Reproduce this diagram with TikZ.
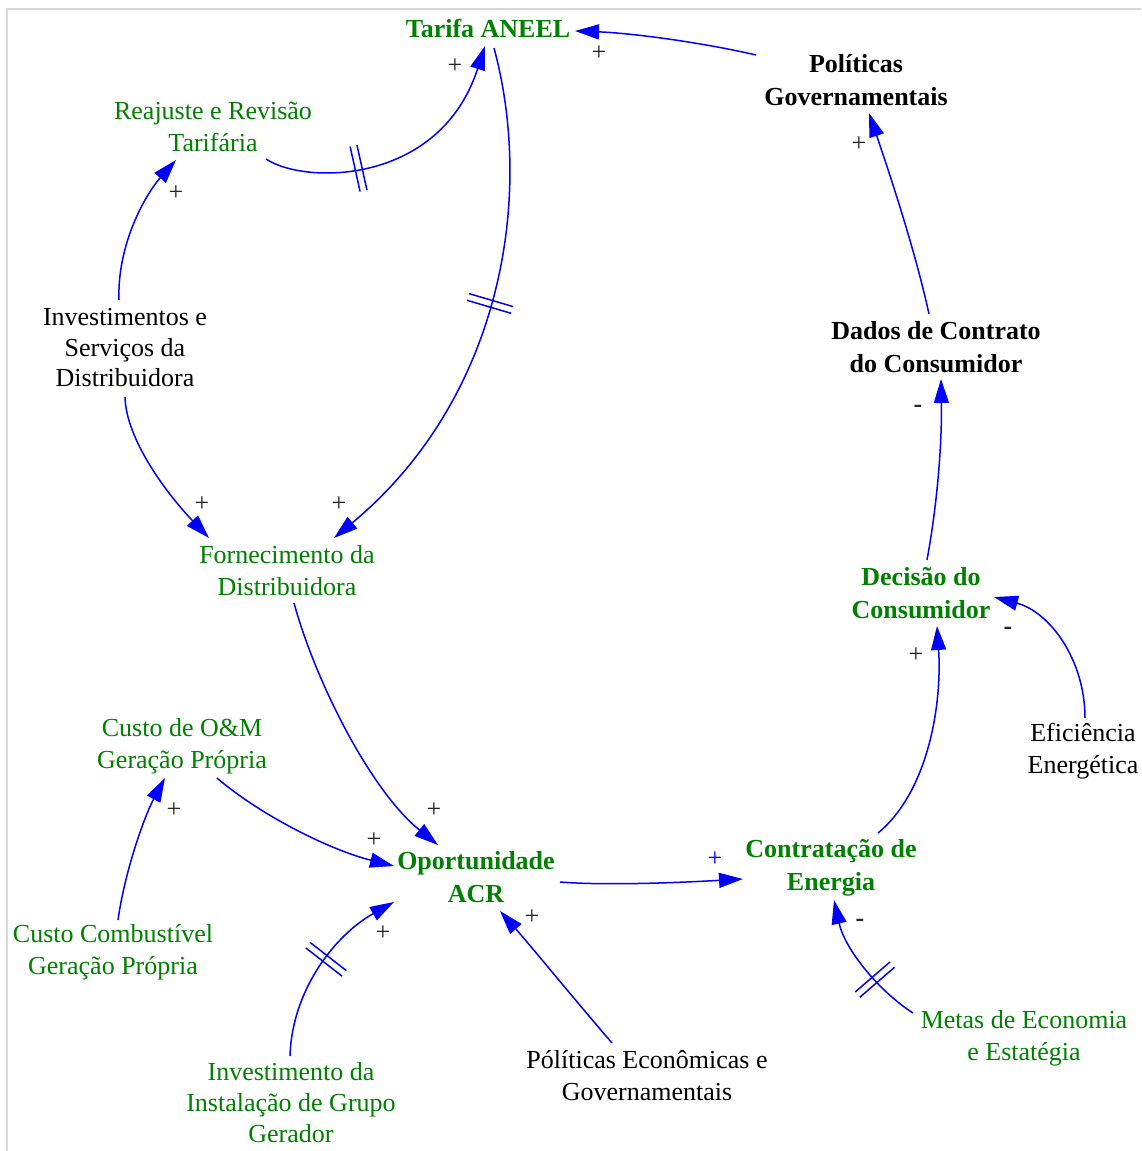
\documentclass[tikz,border=0pt]{standalone}
\usepackage{fontspec}
\setmainfont{Liberation Serif}
\usetikzlibrary{arrows.meta,decorations.markings}
\definecolor{vgreen}{RGB}{0,128,0}
\definecolor{vblue}{RGB}{0,0,255}
\definecolor{framegray}{RGB}{216,216,216}
\begin{document}
\begin{tikzpicture}[x=1pt,y=-1pt,
  txt/.style={align=center, inner sep=0pt, font=\fontsize{26}{32}\selectfont},
  gtxt/.style={txt, text=vgreen},
  btxt/.style={align=center, inner sep=0pt, font=\fontsize{26}{33}\selectfont\bfseries},
  gbtxt/.style={btxt, text=vgreen},
  link/.style={draw=vblue, line width=1.5pt, -{Triangle[length=24pt,width=15pt]}},
  delay/.style={postaction={decorate, decoration={markings, mark=at position #1 with {\draw[vblue,line width=1.5pt,-] (-3.5pt,-23pt)--(-3.5pt,23pt) (3.5pt,-23pt)--(3.5pt,23pt);}}}},
  sgn/.style={inner sep=0pt, font=\fontsize{26}{26}\selectfont, text=black!85},
  msgn/.style={inner sep=0pt, font=\fontsize{26}{26}\selectfont\bfseries, text=black!85}
]
\useasboundingbox (0,0) rectangle (1141,1151);
\draw[framegray, line width=2pt] (1141,9) -- (7,9) -- (7,1151);

% nodes
\node[gbtxt] (tar) at (488,28) {Tarifa ANEEL};
\node[btxt] (pg) at (856,80) {Políticas\\Governamentais};
\node[gtxt] (rea) at (213,127) {Reajuste e Revisão\\Tarifária};
\node[txt, font=\fontsize{26}{30.5}\selectfont] (inv) at (125,348) {Investimentos e\\Serviços da\\Distribuidora};
\node[gtxt] (forn) at (287,571) {Fornecimento da\\Distribuidora};
\node[btxt] (dad) at (936,347) {Dados de Contrato\\do Consumidor};
\node[gbtxt] (dec) at (921,593) {Decisão do\\Consumidor};
\node[txt] (efi) at (1083,751) {Eficiência\\Energética};
\node[gtxt] (com) at (182,746) {Custo de O\&M\\Geração Própria};
\node[gbtxt] (opo) at (476,877) {Oportunidade\\ACR};
\node[gbtxt] (con) at (831,868) {Contratação de\\Energia};
\node[gtxt] (cc) at (113,952) {Custo Combustível\\Geração Própria};
\node[gtxt, font=\fontsize{26}{31}\selectfont] (igg) at (291,1103) {Investimento da\\Instalação de Grupo\\Gerador};
\node[txt] (pe) at (647,1076) {Pólíticas Econômicas e\\Governamentais};
\node[gtxt] (met) at (1024,1038) {Metas de Economia\\e Estatégia};

% connectors
\draw[link] ([shift={(-100,-25)}]pg.center) .. controls (700,42) and (630,33) .. ([shift={(87,3)}]tar.center);
\draw[link, delay=0.34] ([shift={(53,32)}]rea.center) .. controls (305,185) and (440,185) .. ([shift={(-3,18)}]tar.center);
\draw[link, delay=0.475] ([shift={(6,20)}]tar.center) .. controls (535,200) and (500,400) .. ([shift={(47,-33)}]forn.center);
\draw[link] ([shift={(-6,-48)}]inv.center) .. controls (117,245) and (145,195) .. ([shift={(-37,33)}]rea.center);
\draw[link] ([shift={(0,49)}]inv.center) .. controls (126,440) and (168,495) .. ([shift={(-78,-33)}]forn.center);
\draw[link] ([shift={(7,32)}]forn.center) .. controls (315,680) and (370,790) .. ([shift={(-38,-32)}]opo.center);
\draw[link] ([shift={(35,32)}]com.center) .. controls (260,815) and (330,850) .. ([shift={(-82,-11)}]opo.center);
\draw[link] ([shift={(5,-32)}]cc.center) .. controls (125,870) and (145,815) .. ([shift={(-17,32)}]com.center);
\draw[link, delay=0.54] ([shift={(-1,-47)}]igg.center) .. controls (292,990) and (335,935) .. ([shift={(-82,25)}]opo.center);
\draw[link] ([shift={(-35,-33)}]pe.center) .. controls (575,1000) and (530,945) .. ([shift={(24,34)}]opo.center);
\draw[link] ([shift={(84,5)}]opo.center) .. controls (610,886) and (690,882) .. ([shift={(-88,11)}]con.center);
\draw[link, delay=0.36] ([shift={(-111,-25)}]met.center) .. controls (880,992) and (845,950) .. ([shift={(3,32)}]con.center);
\draw[link] ([shift={(47,-35)}]con.center) .. controls (930,790) and (942,700) .. ([shift={(16,33)}]dec.center);
\draw[link] ([shift={(2,-33)}]efi.center) .. controls (1085,660) and (1050,612) .. ([shift={(73,4)}]dec.center);
\draw[link] ([shift={(6,-33)}]dec.center) .. controls (938,500) and (942,440) .. ([shift={(5,32)}]dad.center);
\draw[link] ([shift={(-7,-33)}]dad.center) .. controls (915,250) and (890,175) .. ([shift={(13,33)}]pg.center);

% polarity signs
\node[sgn] (s1) at (599,53) {+};
\node[sgn] (s2) at (455,66) {+};
\node[sgn] (s3) at (339,504) {+};
\node[sgn] (s4) at (176,193) {+};
\node[sgn] (s5) at (202,504) {+};
\node[sgn] (s6) at (434,810) {+};
\node[sgn] (s7) at (374,840) {+};
\node[sgn] (s8) at (174,810) {+};
\node[sgn] (s9) at (383,933) {+};
\node[sgn] (s10) at (532,917) {+};
\node[sgn, text=vblue] (s11) at (715,859) {+};
\node[msgn] (s12) at (860,923) {-};
\node[sgn] (s13) at (916,655) {+};
\node[msgn] (s14) at (1008,631) {-};
\node[msgn] (s15) at (918,409) {-};
\node[sgn] (s16) at (859,144) {+};
\end{tikzpicture}
\end{document}
